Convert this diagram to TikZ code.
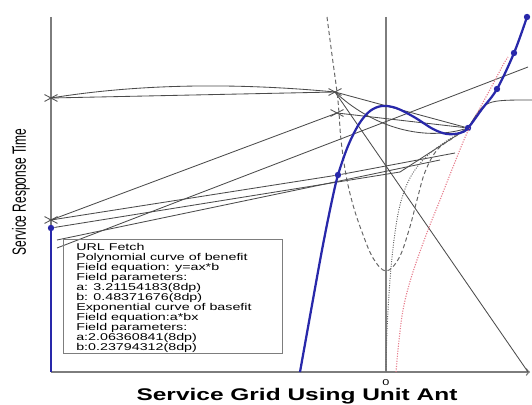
\documentclass[tikz,border=0pt]{standalone}
\usepackage{fontspec}
\setmainfont{Liberation Sans}
\usetikzlibrary{shapes.misc}

\definecolor{plotblue}{RGB}{40,40,170}
\definecolor{plotpink}{RGB}{230,125,140}
\definecolor{axisgray}{RGB}{125,125,125}
\definecolor{linegray}{RGB}{75,75,75}

\tikzset{
  axisline/.style={axisgray, line width=1pt},
  fitline/.style={linegray, line width=0.6pt},
  dashcurve/.style={linegray!85, line width=0.7pt, densely dashed},
  dotcurve/.style={linegray!85, line width=0.7pt, densely dotted},
  bluecurve/.style={plotblue, line width=1.6pt},
  pinkcurve/.style={plotpink, line width=0.8pt, densely dotted},
  xcross/.style={cross out, draw=linegray, line width=0.6pt, minimum width=0.3cm, minimum height=0.15cm, inner sep=0pt},
  bluedot/.style={circle, fill=plotblue, inner sep=0pt, minimum size=0.16cm},
  legendbox/.style={draw=axisgray, line width=0.6pt, minimum width=5.475cm, minimum height=2.85cm, inner sep=0pt},
}

\begin{document}
\begin{tikzpicture}[x=0.025cm, y=-0.025cm]
    \useasboundingbox (0,0) rectangle (532,405);

    \draw [axisline] (51,17)--(51,372);
    \draw [axisline] (386,17)--(386,372);
    \draw [axisline, ->] (51,372)--(530,372);

    \node [xcross] (crossA) at (51,98) {};
    \node [xcross] (crossB) at (51,220) {};
    \node [xcross] (crossC) at (335,92) {};
    \node [xcross] (crossD) at (337,113) {};
    \node [bluedot] (dotA) at (51,228) {};
    \node [bluedot] (dotB) at (338,175) {};
    \node [bluedot] (dotC) at (468,128) {};
    \node [bluedot] (dotD) at (497,89) {};
    \node [bluedot] (dotE) at (514,53) {};
    \node [bluedot] (dotF) at (527,17) {};
    \coordinate (xend) at (528,372);
    \coordinate (topright) at (528,67);
    \coordinate (rightend) at (532,100);

    \draw [fitline] (crossA.center) .. controls (150,82) and (250,84) .. (crossC.center);
    \draw [fitline] (crossA.center) -- (crossC.center);
    \draw [fitline] (crossB.center) -- (crossD.center);
    \draw [fitline] (crossC.center) -- (dotC);
    \draw [fitline] (crossC.center) .. controls (370,125) and (420,142) .. (dotC);
    \draw [fitline] (crossD.center) -- (dotC);
    \draw [fitline] (crossC.center) -- (xend);
    \draw [fitline] (57,248) -- (topright);
    \draw [fitline] (crossB.center) -- (dotB) -- (455,153);
    \draw [fitline] (dotA) -- (400,172) -- (dotC);
    \draw [fitline] (57,240) -- (440,160);
    \draw [fitline] (dotC) .. controls (485,100) .. (rightend);

    \draw [dashcurve] plot [smooth, tension=0.6] coordinates {(327,17) (332,55) (337,92) (339,113) (341,140) (346,175) (353,205) (362,232) (373,258) (386,271) (399,258) (409,230) (417,200) (425,172) (437,150) (453,138) (468,128)};
    \draw [dotcurve] plot [smooth, tension=0.6] coordinates {(386,372) (387,330) (390,280) (394,240) (400,205) (410,178) (425,158) (445,142) (468,128)};
    \draw [pinkcurve] plot [smooth, tension=0.6] coordinates {(396,372) (399,340) (403,310) (409,285) (417,260) (428,230) (440,200) (453,167) (467,133) (480,108) (493,84) (503,65) (508,57)};

    \draw [bluecurve] (51,372) -- (dotA);
    \draw [bluecurve] plot [smooth, tension=0.55] coordinates {(300,372) (312,305) (322,250) (331,205) (338,175) (348,146) (359,124) (370,111) (382,106) (396,108) (414,117) (433,129) (447,134) (460,133) (468,128) (482,109) (497,89) (514,53) (527,17)};

    \node [legendbox] (legend) at (172.5,296) {};
    \node [anchor=north west, inner sep=0pt, font=\fontsize{7}{6.75}\selectfont] (legendtext) at (76,243) {\scalebox{1.45}[1]{\begin{tabular}{@{}l@{}}
      URL Fetch\\
      Polynomial curve of benefit\\
      Field equation: y=ax*b\\
      Field parameters:\\
      a: 3.21154183(8dp)\\
      b: 0.48371676(8dp)\\
      Exponential curve of basefit\\
      Field equation:a*bx\\
      Field parameters:\\
      a:2.06360841(8dp)\\
      b:0.23794312(8dp)
    \end{tabular}}};

    \node [font=\fontsize{6}{7}\selectfont] (zero) at (386,383) {\scalebox{1.5}[1]{0}};
    \node [font=\fontsize{12}{14}\selectfont\bfseries] (xtitle) at (297,396) {\scalebox{1.45}[1]{Service Grid Using Unit Ant}};
    \node [rotate=90, font=\fontsize{8.5}{9}\selectfont] (ytitle) at (21,192) {\scalebox{1}[1.6]{Service Response Time}};
  \end{tikzpicture}
\end{document}
